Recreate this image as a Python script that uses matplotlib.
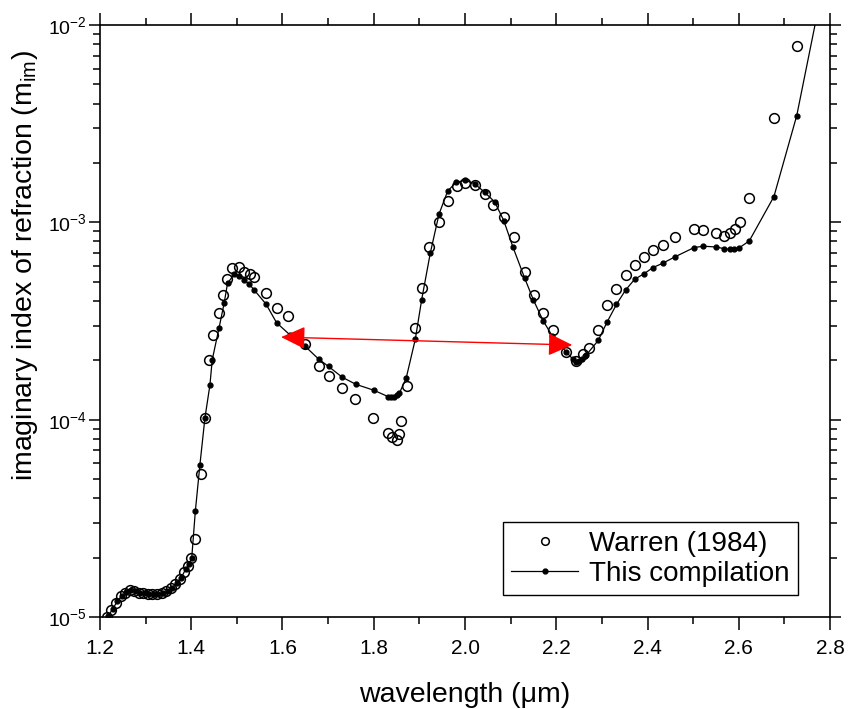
import matplotlib
matplotlib.use('Agg')
import matplotlib.pyplot as plt
from matplotlib.ticker import LogLocator, MultipleLocator, LogFormatterSciNotation, NullFormatter

plt.rcParams['font.family'] = ['Liberation Sans', 'DejaVu Sans']
plt.rcParams['mathtext.fontset'] = 'custom'
plt.rcParams['mathtext.rm'] = 'Liberation Sans'
plt.rcParams['mathtext.it'] = 'Liberation Sans:italic'
plt.rcParams['mathtext.bf'] = 'Liberation Sans:bold'

# Warren (1984) open circles
warren_wl = [1.215, 1.225, 1.235, 1.245, 1.255, 1.265, 1.275, 1.285, 1.295, 1.305,
             1.315, 1.325, 1.335, 1.345, 1.355, 1.365, 1.375, 1.385, 1.392, 1.400,
             1.408, 1.422, 1.430, 1.439, 1.447, 1.460, 1.470, 1.479, 1.490, 1.504,
             1.516, 1.529, 1.538, 1.564, 1.587, 1.613, 1.650, 1.679, 1.701, 1.731,
             1.758, 1.799, 1.831, 1.840, 1.850, 1.856, 1.860, 1.872, 1.891, 1.905,
             1.922, 1.943, 1.962, 1.982, 2.001, 2.021, 2.043, 2.061, 2.085, 2.107,
             2.132, 2.151, 2.171, 2.192, 2.221, 2.243, 2.259, 2.272, 2.292, 2.311,
             2.332, 2.352, 2.372, 2.393, 2.412, 2.433, 2.461, 2.502, 2.522, 2.551,
             2.567, 2.581, 2.592, 2.603, 2.622, 2.677, 2.727]
warren_mi = [1.00e-5, 1.08e-5, 1.18e-5, 1.27e-5, 1.33e-5, 1.37e-5, 1.36e-5, 1.33e-5, 1.32e-5, 1.31e-5,
             1.31e-5, 1.31e-5, 1.32e-5, 1.35e-5, 1.40e-5, 1.47e-5, 1.56e-5, 1.70e-5, 1.82e-5, 1.98e-5,
             2.48e-5, 5.3e-5, 1.02e-4, 2.01e-4, 2.69e-4, 3.48e-4, 4.28e-4, 5.14e-4, 5.9e-4, 5.95e-4,
             5.6e-4, 5.46e-4, 5.3e-4, 4.36e-4, 3.67e-4, 3.35e-4, 2.41e-4, 1.88e-4, 1.66e-4, 1.45e-4,
             1.27e-4, 1.02e-4, 8.6e-5, 8.2e-5, 7.9e-5, 8.5e-5, 9.8e-5, 1.48e-4, 2.91e-4, 4.63e-4,
             7.5e-4, 1.00e-3, 1.29e-3, 1.52e-3, 1.58e-3, 1.54e-3, 1.40e-3, 1.23e-3, 1.07e-3, 8.4e-4,
             5.6e-4, 4.3e-4, 3.46e-4, 2.85e-4, 2.21e-4, 1.99e-4, 2.15e-4, 2.30e-4, 2.85e-4, 3.81e-4,
             4.57e-4, 5.4e-4, 6.07e-4, 6.68e-4, 7.2e-4, 7.7e-4, 8.4e-4, 9.2e-4, 9.1e-4, 8.8e-4,
             8.5e-4, 8.8e-4, 9.2e-4, 1.00e-3, 1.33e-3, 3.38e-3, 7.8e-3]

# This compilation (line with small filled dots)
comp_wl = [1.218, 1.228, 1.238, 1.248, 1.258, 1.268, 1.278, 1.288, 1.298, 1.308,
           1.318, 1.328, 1.338, 1.348, 1.358, 1.368, 1.378, 1.388, 1.395, 1.401,
           1.409, 1.419, 1.430, 1.441, 1.446, 1.461, 1.472, 1.4795, 1.494, 1.505,
           1.516, 1.527, 1.538, 1.564, 1.587, 1.617, 1.650, 1.679, 1.701, 1.731,
           1.761, 1.800, 1.831, 1.838, 1.845, 1.851, 1.856, 1.871, 1.891, 1.905,
           1.924, 1.943, 1.962, 1.981, 2.001, 2.021, 2.043, 2.065, 2.085, 2.105,
           2.131, 2.150, 2.171, 2.191, 2.222, 2.237, 2.244, 2.250, 2.256, 2.262,
           2.266, 2.292, 2.311, 2.332, 2.352, 2.372, 2.393, 2.412, 2.433, 2.461,
           2.502, 2.522, 2.551, 2.567, 2.580, 2.590, 2.600, 2.623, 2.677, 2.727, 2.777]
comp_mi = [1.01e-5, 1.10e-5, 1.20e-5, 1.28e-5, 1.34e-5, 1.37e-5, 1.35e-5, 1.33e-5, 1.32e-5, 1.31e-5,
           1.31e-5, 1.31e-5, 1.32e-5, 1.35e-5, 1.41e-5, 1.48e-5, 1.58e-5, 1.75e-5, 1.85e-5, 1.98e-5,
           3.44e-5, 5.9e-5, 1.02e-4, 1.50e-4, 2.01e-4, 2.92e-4, 3.88e-4, 4.9e-4, 5.46e-4, 5.34e-4,
           5.1e-4, 4.86e-4, 4.54e-4, 3.85e-4, 3.10e-4, 2.68e-4, 2.35e-4, 2.03e-4, 1.86e-4, 1.64e-4,
           1.51e-4, 1.41e-4, 1.31e-4, 1.30e-4, 1.31e-4, 1.33e-4, 1.36e-4, 1.62e-4, 2.55e-4, 4.05e-4,
           7.0e-4, 1.10e-3, 1.44e-3, 1.60e-3, 1.63e-3, 1.57e-3, 1.42e-3, 1.27e-3, 1.02e-3, 7.5e-4,
           5.2e-4, 4.04e-4, 3.18e-4, 2.66e-4, 2.20e-4, 2.02e-4, 1.97e-4, 1.98e-4, 2.03e-4, 2.09e-4,
           2.13e-4, 2.52e-4, 3.11e-4, 3.84e-4, 4.54e-4, 5.15e-4, 5.5e-4, 5.9e-4, 6.2e-4, 6.7e-4,
           7.45e-4, 7.57e-4, 7.5e-4, 7.36e-4, 7.3e-4, 7.3e-4, 7.4e-4, 8.05e-4, 1.35e-3, 3.47e-3, 1.3e-2]

# red double arrow end points
arrow_start = (1.597, 2.62e-4)
arrow_end = (2.235, 2.39e-4)

fig = plt.figure(figsize=(8.48, 7.09), dpi=100)
ax = fig.add_axes([0.1179, 0.1298, 0.8609, 0.8349])

ax.plot(warren_wl, warren_mi, 'o', mfc='none', mec='black', mew=1.1, ms=7,
        label='Warren (1984)')
ax.plot(comp_wl, comp_mi, '-', color='black', lw=0.9, marker='o', ms=3.5,
        label='This compilation')

ax.annotate('', xy=arrow_start, xytext=arrow_end,
            arrowprops=dict(arrowstyle='<|-|>,head_length=0.75,head_width=0.35',
                            color='red', lw=1.0, mutation_scale=20,
                            shrinkA=0, shrinkB=0))

ax.set_yscale('log')
ax.set_xlim(1.2, 2.8)
ax.set_ylim(1e-5, 1e-2)
ax.xaxis.set_major_locator(MultipleLocator(0.2))
ax.xaxis.set_minor_locator(MultipleLocator(0.1))
ax.yaxis.set_major_locator(LogLocator(base=10, numticks=10))
ax.yaxis.set_minor_locator(LogLocator(base=10, subs=range(2, 10), numticks=10))
ax.yaxis.set_major_formatter(LogFormatterSciNotation())
ax.yaxis.set_minor_formatter(NullFormatter())
ax.xaxis.set_major_formatter(plt.FuncFormatter(lambda v, p: f'{v:.1f}'))

ax.tick_params(which='both', direction='out', top=True, right=True, width=1.1)
ax.tick_params(axis='x', which='major', length=9, labelsize=15, pad=7)
ax.tick_params(axis='y', which='major', length=8, labelsize=14, pad=1.5)
ax.tick_params(which='minor', length=5)
for s in ax.spines.values():
    s.set_linewidth(1.2)

ax.set_xlabel('wavelength (μm)', fontsize=20.5, labelpad=17)
ax.set_ylabel(r'imaginary index of refraction (m$_{\mathrm{im}}$)', fontsize=20.5)
ax.yaxis.set_label_coords(-0.082, 0.594)

leg = ax.legend(loc='lower right', bbox_to_anchor=(0.956, 0.037), fontsize=20,
                fancybox=False, edgecolor='black', framealpha=1, handlelength=2.4,
                borderpad=0.3, labelspacing=0.15, handletextpad=0.4,
                borderaxespad=0)
leg.get_frame().set_linewidth(1.0)
leg.legend_handles[0].set_markersize(5.5)

fig.savefig('out.png', dpi=100)
